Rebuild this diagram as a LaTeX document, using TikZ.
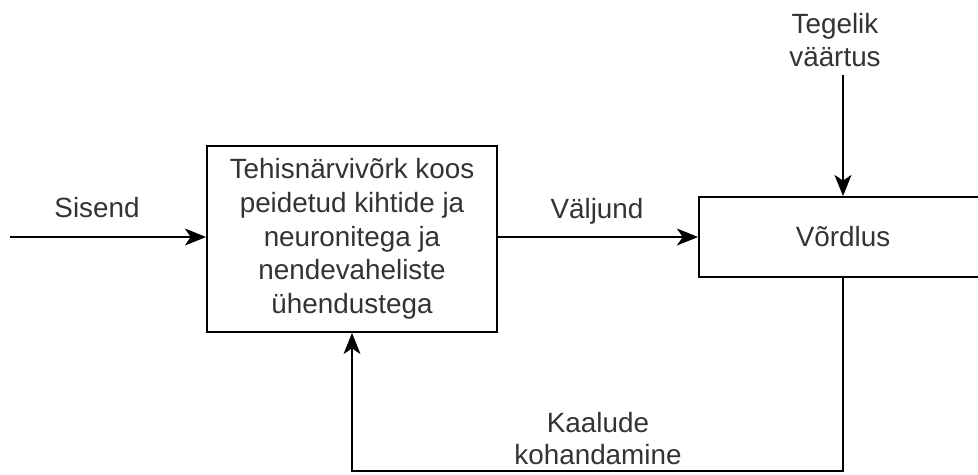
\documentclass[tikz,border=0pt]{standalone}
\usepackage{fontspec}
\setmainfont{Liberation Sans}
\usetikzlibrary{arrows.meta}

\begin{document}
\begin{tikzpicture}[x=0.025cm,y=-0.025cm,
	every node/.style={font=\fontsize{19.8}{24}\selectfont, text=black!80},
	box/.style={draw, line width=1.3pt, align=center, inner sep=0pt},
	arr/.style={line width=1.3pt, -{Stealth[length=15pt,width=12pt,inset=4pt]}}]
	
	% Lehe piirid
	\useasboundingbox (0,0) rectangle (978,474);
	
	% Plokid
	\node[box, minimum width=290*0.025cm, minimum height=186*0.025cm] (nn) at (352,239)
		{Tehisnärvivõrk koos\\peidetud kihtide ja\\neuronitega ja\\nendevaheliste\\ühendustega};
	\node[box, minimum width=288*0.025cm, minimum height=80*0.025cm] (cmp) at (843,237) {Võrdlus};
	
	% Sildid
	\node (sis) at (97,208) {Sisend};
	\node (val) at (597,211) {Väljund};
	\node[align=center] (teg) at (835,40) {Tegelik\\väärtus};
	\node[align=center, font=\fontsize{19.8}{22.8}\selectfont] (kaal) at (598,439) {Kaalude\\kohandamine};
	
	% Abipunktid
	\coordinate (in) at (10,237);
	\coordinate (low) at (600,471);
	
	% Nooled
	\draw[arr] (in) -- (nn.west |- in);
	\draw[arr] (nn.east |- cmp.west) -- (cmp.west);
	\draw[arr] (cmp.north |- 0,75) -- (cmp.north);
	\draw[arr] (cmp.south) |- (low) -| (nn.south);
	
\end{tikzpicture}
\end{document}
